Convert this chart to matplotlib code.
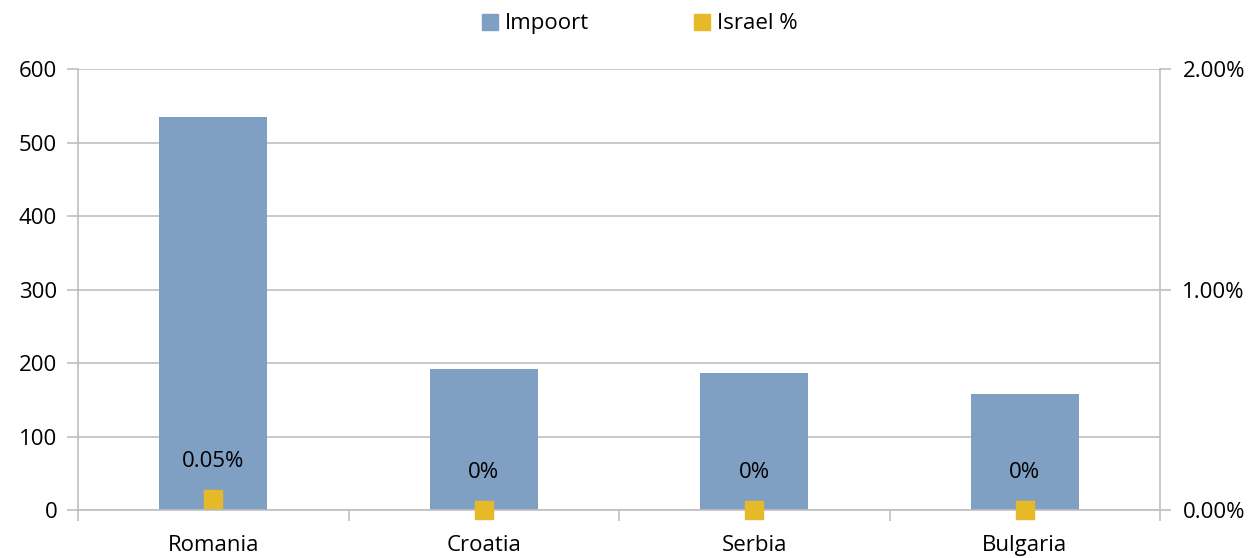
import numpy as np
import matplotlib.pyplot as plt
from matplotlib.ticker import FuncFormatter
from matplotlib.lines import Line2D

plt.rcParams['font.family'] = ['Open Sans', 'DejaVu Sans']

countries = ['Romania', 'Croatia', 'Serbia', 'Bulgaria']
impoort = [535, 192, 186, 158]
israel_pct = [0.05, 0.0, 0.0, 0.0]
israel_labels = ['0.05%', '0%', '0%', '0%']

bar_color = '#7f9fc3'
dot_color = '#e6b929'
grid_color = '#bfbfbf'
fs = 16

fig = plt.figure(figsize=(12.51, 5.58), dpi=100)
ax = fig.add_axes([0.0624, 0.086, 0.865, 0.790])
x = np.arange(len(countries))

ax.bar(x, impoort, width=0.4, color=bar_color, zorder=2)
ax.set_xlim(-0.5, len(countries) - 0.5)
ax.set_ylim(0, 600)
ax.set_yticks(range(0, 601, 100))
ax.yaxis.grid(True, color=grid_color, linewidth=1.2, zorder=0)
ax.set_axisbelow(True)

ax.set_xticks(x)
ax.set_xticklabels(countries, fontsize=fs)
ax.set_xticks(np.arange(-0.5, len(countries)), minor=True)
ax.tick_params(axis='x', which='major', length=0, pad=18)
ax.tick_params(axis='x', which='minor', length=8, color=grid_color, width=1.2, direction='out')
ax.tick_params(axis='y', length=8, color=grid_color, width=1.2, labelsize=fs, pad=7)
for side in ['left', 'bottom', 'right']:
    ax.spines[side].set_color(grid_color)
    ax.spines[side].set_linewidth(1.2)
ax.spines['top'].set_visible(False)

ax2 = ax.twinx()
ax2.set_ylim(0, 2.0)
ax2.set_yticks([0, 1.0, 2.0])
ax2.yaxis.set_major_formatter(FuncFormatter(lambda v, p: '%.2f%%' % v))
ax2.tick_params(axis='y', length=8, color=grid_color, width=1.2, labelsize=fs, pad=8)
for side in ['left', 'bottom', 'right', 'top']:
    ax2.spines[side].set_visible(False)
ax2.plot(x, israel_pct, linestyle='none', marker='s', markersize=13, color=dot_color,
         clip_on=False, zorder=3)
for xi, yi, lab in zip(x, israel_pct, israel_labels):
    ax2.annotate(lab, (xi, yi), xytext=(0, 27), textcoords='offset points',
                 ha='center', va='center', fontsize=fs)

handles = [Line2D([], [], linestyle='none', marker='s', markersize=11, color=bar_color),
           Line2D([], [], linestyle='none', marker='s', markersize=11, color=dot_color)]
fig.legend(handles, ['Impoort', 'Israel %'], loc='upper center', bbox_to_anchor=(0.512, 1.012),
           ncol=2, frameon=False, fontsize=fs, handlelength=0.6, handletextpad=0.35,
           columnspacing=4.8)

fig.savefig('out.png', dpi=100)
